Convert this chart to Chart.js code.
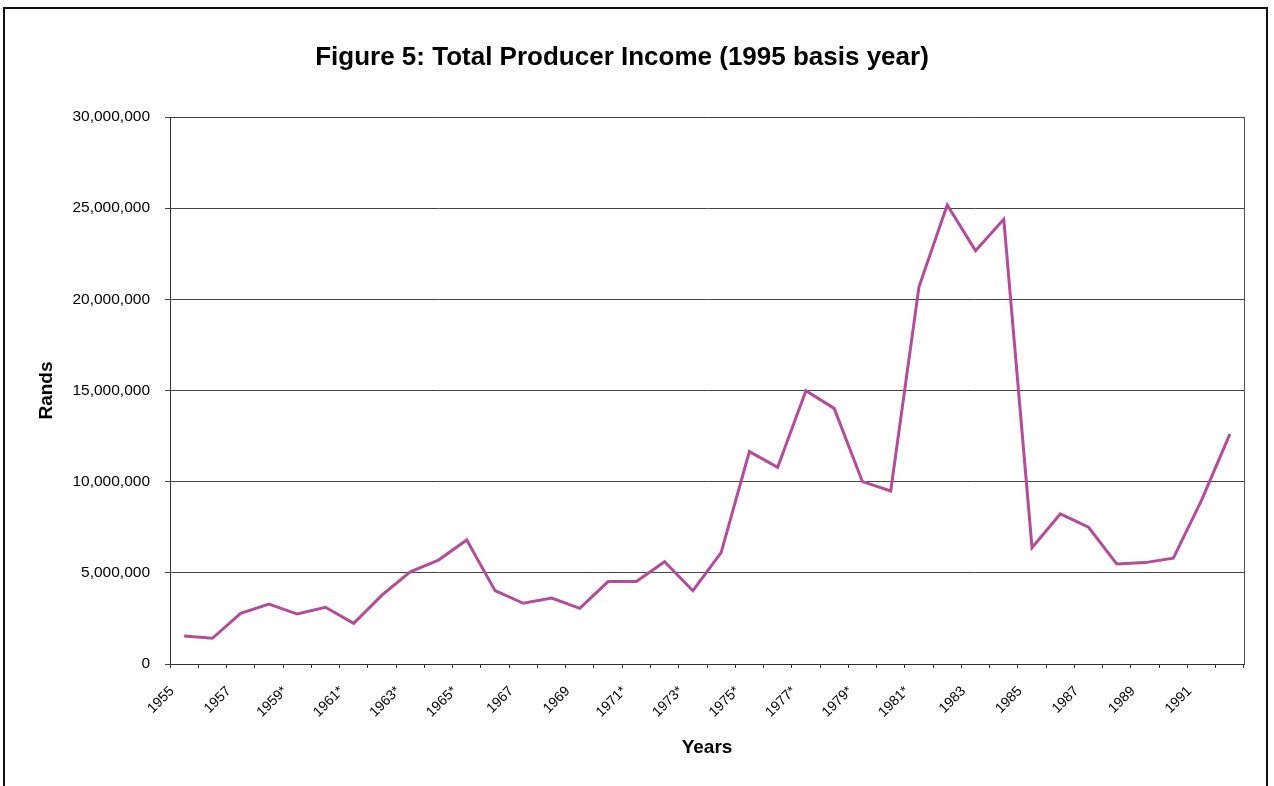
<!DOCTYPE html>
<html>
<head>
<meta charset="utf-8">
<title>Total Producer Income</title>
<script src="https://cdn.jsdelivr.net/npm/chart.js@4/dist/chart.umd.min.js"></script>
<style>
    html, body { margin: 0; padding: 0; background: #fff; }
    #wrap { width: 1274px; height: 786px; }
</style>
</head>
<body>
<div id="wrap"><canvas id="incomeChart" width="1274" height="786"></canvas></div>
<script>
// Years (asterisked years as labelled on the axis)
const years = [
    '1955', '1956', '1957', '1958', '1959*', '1960', '1961*', '1962', '1963*', '1964',
    '1965*', '1966', '1967', '1968', '1969', '1970', '1971*', '1972', '1973*', '1974',
    '1975*', '1976', '1977*', '1978', '1979*', '1980', '1981*', '1982', '1983', '1984',
    '1985', '1986', '1987', '1988', '1989', '1990', '1991', '1992'
];

// Total producer income, Rands (1995 basis year)
const income = [
    1540000, 1410000, 2780000, 3290000, 2740000, 3110000, 2230000, 3780000, 5060000, 5700000,
    6800000, 4020000, 3330000, 3620000, 3050000, 4520000, 4520000, 5610000, 4020000, 6110000,
    11650000, 10790000, 14990000, 14020000, 10000000, 9490000, 20690000, 25170000, 22670000, 24390000,
    6380000, 8230000, 7500000, 5480000, 5560000, 5800000, 8990000, 12610000
];

// Value axis
const yMin = 0;
const yMax = 30000000;
const yStep = 5000000;

const FONT = "'Liberation Sans', Arial, Helvetica, sans-serif";

// Outer frame and plot-area outline
const framePlugin = {
    id: 'frame',
    afterDraw(chart) {
        const { ctx, chartArea } = chart;
        ctx.save();
        ctx.strokeStyle = '#555';
        ctx.lineWidth = 1;
        ctx.beginPath();
        ctx.moveTo(chartArea.right + 0.5, chartArea.top);
        ctx.lineTo(chartArea.right + 0.5, chartArea.bottom);
        ctx.stroke();

        ctx.strokeStyle = '#111';
        ctx.lineWidth = 2;
        ctx.beginPath();
        ctx.moveTo(4, 800);
        ctx.lineTo(4, 8);
        ctx.lineTo(1267, 8);
        ctx.lineTo(1267, 800);
        ctx.stroke();
        ctx.restore();
    }
};

new Chart(document.getElementById('incomeChart'), {
    type: 'line',
    data: {
        labels: years,
        datasets: [{
            label: 'Total Producer Income',
            data: income,
            borderColor: '#b44c9a',
            borderWidth: 3,
            pointRadius: 0,
            tension: 0,
            fill: false
        }]
    },
    options: {
        responsive: false,
        animation: false,
        devicePixelRatio: 1,
        layout: { padding: { left: 0, right: 30, top: 0, bottom: 0 } },
        plugins: {
            legend: { display: false },
            tooltip: { enabled: false },
            title: {
                display: true,
                text: 'Figure 5: Total Producer Income (1995 basis year)',
                color: '#000',
                font: { family: FONT, size: 26, weight: 'bold' },
                padding: { top: 42, bottom: 43.8 }
            }
        },
        scales: {
            x: {
                type: 'category',
                offset: true,
                afterFit(scale) { scale.height = 122; },
                grid: {
                    offset: true,
                    drawOnChartArea: false,
                    drawTicks: true,
                    tickLength: 4,
                    color: '#333'
                },
                border: { color: '#333', width: 1 },
                ticks: {
                    autoSkip: false,
                    maxRotation: 45,
                    minRotation: 45,
                    padding: 15,
                    labelOffset: -12,
                    color: '#000',
                    font: { family: FONT, size: 14 },
                    callback(value, index) {
                        return index % 2 === 0 ? this.getLabelForValue(value) : '';
                    }
                },
                title: {
                    display: true,
                    text: 'Years',
                    color: '#000',
                    font: { family: FONT, size: 19, weight: 'bold' },
                    padding: { top: 0, bottom: 26.6 }
                }
            },
            y: {
                min: yMin,
                max: yMax,
                afterFit(scale) { scale.width = 170; },
                grid: {
                    color: '#444',
                    lineWidth: 1,
                    drawTicks: true,
                    tickLength: 5
                },
                border: { color: '#333', width: 1 },
                ticks: {
                    stepSize: yStep,
                    padding: 15,
                    color: '#000',
                    font: { family: FONT, size: 15.5 },
                    callback: (v) => v.toLocaleString('en-US')
                },
                title: {
                    display: true,
                    text: 'Rands',
                    color: '#000',
                    font: { family: FONT, size: 19, weight: 'bold' },
                    padding: { top: 35.5 }
                }
            }
        }
    },
    plugins: [framePlugin]
});
</script>
</body>
</html>
